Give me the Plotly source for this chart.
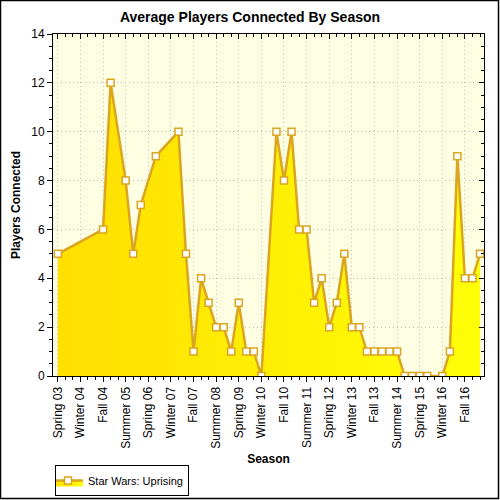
import plotly.graph_objects as go

# seasons that have a value (gaps are simply missing seasons)
seasons = [
    "Spring 03", "Fall 04", "Winter 05", "Summer 05", "Fall 05", "Winter 06",
    "Summer 06", "Spring 07", "Summer 07", "Fall 07", "Winter 08", "Spring 08",
    "Summer 08", "Fall 08", "Winter 09", "Spring 09", "Summer 09", "Fall 09",
    "Winter 10", "Summer 10", "Fall 10", "Winter 11", "Spring 11", "Summer 11",
    "Fall 11", "Winter 12", "Spring 12", "Summer 12", "Fall 12", "Winter 13",
    "Spring 13", "Summer 13", "Fall 13", "Winter 14", "Spring 14", "Summer 14",
    "Fall 14", "Winter 15", "Spring 15", "Summer 15", "Winter 16", "Spring 16",
    "Summer 16", "Fall 16", "Winter 17", "Spring 17",
]
players = [
    5, 6, 12, 8, 5, 7,
    9, 10, 5, 1, 4, 3,
    2, 2, 1, 3, 1, 1,
    0, 10, 8, 10, 6, 6,
    3, 4, 2, 3, 5, 2,
    2, 1, 1, 1, 1, 1,
    0, 0, 0, 0, 0, 1,
    9, 4, 4, 5,
]
tick_labels = [
    "Spring 03", "Winter 04", "Fall 04", "Summer 05", "Spring 06", "Winter 07",
    "Fall 07", "Summer 08", "Spring 09", "Winter 10", "Fall 10", "Summer 11",
    "Spring 12", "Winter 13", "Fall 13", "Summer 14", "Spring 15", "Winter 16",
    "Fall 16",
]
y_ticks = [0, 2, 4, 6, 8, 10, 12, 14]


def season_index(label):
    # Spring 03 -> 0, one step per season; winter belongs to the next year
    name, yy = label.split()
    offset = {"Spring": 0, "Summer": 1, "Fall": 2, "Winter": -1}[name]
    return (int(yy) - 3) * 4 + offset


x = [season_index(s) for s in seasons]
tickvals = [season_index(s) for s in tick_labels]

GOLD = "#DAA520"
FONT = "Liberation Sans, Arial, sans-serif"
GRID = dict(showgrid=True, gridcolor="#BDBDBD", griddash="1px,3px", gridwidth=1)
XR = [-0.64, 56.53]
YR = [0, 14]

fig = go.Figure()
fig.add_trace(go.Scatter(
    x=x, y=players,
    mode="lines+markers",
    name="Star Wars: Uprising",
    fill="tozeroy",
    fillgradient=dict(type="horizontal",
                      colorscale=[[0, "#FFDE00"], [1, "#FFFF08"]]),
    line=dict(color=GOLD, width=2.5),
    marker=dict(symbol="square", size=7, color="white",
                line=dict(color=GOLD, width=1.5)),
    text=seasons,
    hovertemplate="%{text}: %{y}<extra></extra>",
))
# empty trace so the mirrored axes (inward ticks on top/right) get drawn
fig.add_trace(go.Scatter(x=[], y=[], xaxis="x2", yaxis="y2",
                         showlegend=False, hoverinfo="skip"))

# plot area in pixels: x 53..484, y 34..376
L, R, T, B = 53, 16, 34, 124
pw, ph = 500 - L - R, 500 - T - B

fig.update_layout(
    width=500, height=500,
    margin=dict(l=L, r=R, t=T, b=B, autoexpand=False),
    paper_bgcolor="white",
    plot_bgcolor="#FFFFE4",
    font=dict(family=FONT, size=12, color="black"),
    title=dict(text="<b>Average Players Connected By Season</b>",
               x=0.5, xanchor="center", y=0.966, yanchor="middle",
               font=dict(size=14, color="black")),
    xaxis=dict(
        range=XR, tickmode="array", tickvals=tickvals, ticktext=tick_labels,
        tickangle=-90, ticks="outside", ticklen=5, tickcolor="black",
        showline=True, linecolor="black", linewidth=1, automargin=False,
        zeroline=False, **GRID,
        minor=dict(tickmode="linear", tick0=0, dtick=1, ticks="outside",
                   ticklen=3, tickcolor="black", showgrid=False),
        title=dict(text="<b>Season</b>", font=dict(size=12), standoff=6),
        tickfont=dict(size=12),
    ),
    yaxis=dict(
        range=YR, tickmode="array", tickvals=y_ticks,
        ticks="outside", ticklen=5, tickcolor="black",
        showline=True, linecolor="black", linewidth=1, automargin=False,
        zeroline=False, **GRID,
        minor=dict(tickmode="linear", tick0=0, dtick=0.5, ticks="outside",
                   ticklen=3, tickcolor="black", showgrid=False),
        title=dict(text="<b>Players Connected</b>", font=dict(size=12),
                   standoff=8),
        tickfont=dict(size=12),
    ),
    xaxis2=dict(
        overlaying="x", side="top", range=XR, anchor="y", automargin=False,
        tickmode="array", tickvals=tickvals, showticklabels=False,
        ticks="inside", ticklen=5, tickcolor="black",
        showgrid=False, zeroline=False, showline=True, linecolor="black",
        minor=dict(tickmode="linear", tick0=0, dtick=1, ticks="inside",
                   ticklen=3, tickcolor="black"),
    ),
    yaxis2=dict(
        overlaying="y", side="right", range=YR, anchor="x", automargin=False,
        tickmode="array", tickvals=y_ticks, showticklabels=False,
        ticks="inside", ticklen=5, tickcolor="black",
        showgrid=False, zeroline=False, showline=True, linecolor="black",
        minor=dict(tickmode="linear", tick0=0, dtick=0.5, ticks="inside",
                   ticklen=3, tickcolor="black"),
    ),
    showlegend=True,
    legend=dict(
        orientation="h", x=(55 - L) / pw, xanchor="left",
        y=(500 - B - 465) / ph, yanchor="top",
        bordercolor="black", borderwidth=1, bgcolor="white",
        font=dict(size=11, color="black"),
        itemwidth=30, tracegroupgap=0, indentation=-8,
    ),
    shapes=[dict(
        type="rect", xref="paper", yref="paper",
        x0=(0.5 - L) / pw, x1=(498.5 - L) / pw,
        y0=(500 - B - 498.5) / ph, y1=(500 - B - 0.5) / ph,
        line=dict(color="black", width=1.5), layer="above",
    )],
)

# drop the browser's default 8px body margin so the figure sits at 0,0
fig.write_html("out.html", config={"displayModeBar": False},
               post_script="document.body.style.margin='0';")
